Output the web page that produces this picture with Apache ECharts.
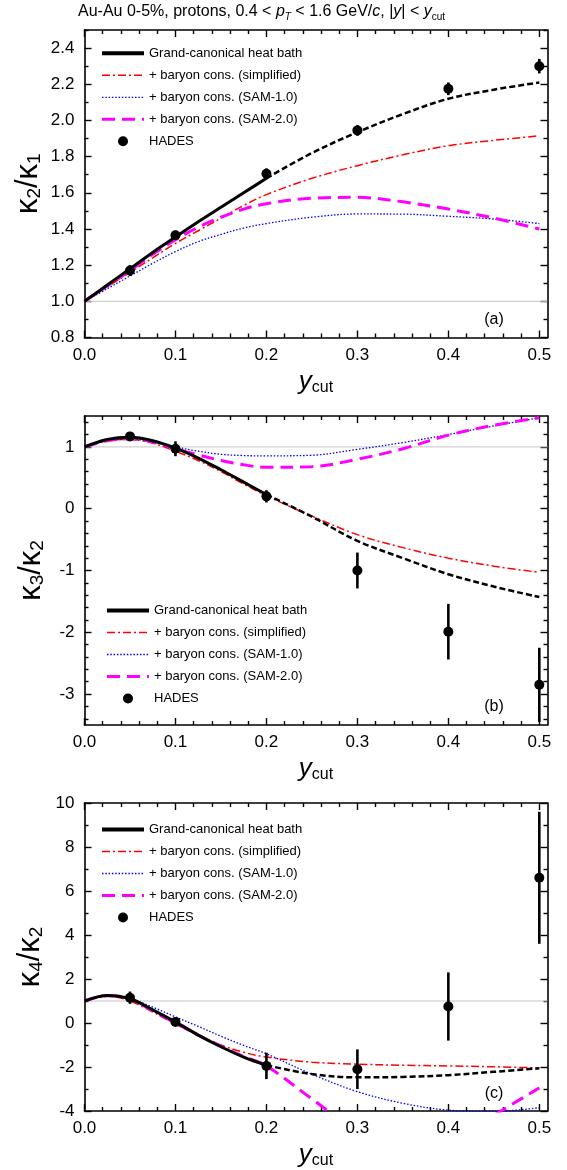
<!DOCTYPE html>
<html><head><meta charset="utf-8">
<script src="https://cdn.jsdelivr.net/npm/echarts@6/dist/echarts.min.js"></script>
<style>html,body{margin:0;padding:0;background:#fff}#c{width:567px;height:1170px}</style>
</head><body><div id="c"></div><script>
// ---------- data ----------
const yCut = [0, 0.025, 0.05, 0.075, 0.1, 0.125, 0.15, 0.175, 0.2, 0.25, 0.3, 0.35, 0.4, 0.45, 0.5];

// panel (a) kappa2/kappa1
const k21_gce  = [1.0, 1.09, 1.18, 1.27, 1.355, 1.44, 1.52, 1.60, 1.68, 1.82, 1.935, 2.035, 2.12, 2.17, 2.21];
const k21_simp = [1.0, 1.08, 1.16, 1.24, 1.32, 1.39, 1.46, 1.53, 1.59, 1.68, 1.75, 1.81, 1.86, 1.89, 1.915];
const k21_sam1 = [1.0, 1.07, 1.14, 1.21, 1.275, 1.33, 1.37, 1.405, 1.43, 1.465, 1.483, 1.482, 1.47, 1.455, 1.43];
const k21_sam2 = [1.0, 1.085, 1.17, 1.26, 1.34, 1.41, 1.465, 1.51, 1.54, 1.57, 1.575, 1.55, 1.51, 1.46, 1.40];
const k21_hades = [1.17, 1.365, 1.705, 1.945, 2.175, 2.30];
const k21_err   = [0.03, 0.025, 0.03, 0.03, 0.035, 0.04];

// panel (b) kappa3/kappa2
const k32_gce  = [1.0, 1.12, 1.155, 1.10, 0.98, 0.82, 0.63, 0.43, 0.23, -0.13, -0.52, -0.80, -1.06, -1.26, -1.43];
const k32_simp = [1.0, 1.10, 1.12, 1.06, 0.93, 0.78, 0.60, 0.40, 0.21, -0.12, -0.42, -0.63, -0.80, -0.93, -1.03];
const k32_sam1 = [1.0, 1.10, 1.13, 1.08, 1.0, 0.93, 0.88, 0.86, 0.855, 0.865, 0.96, 1.07, 1.20, 1.34, 1.47];
const k32_sam2 = [1.0, 1.10, 1.13, 1.08, 0.97, 0.87, 0.78, 0.71, 0.67, 0.68, 0.80, 0.97, 1.19, 1.35, 1.47];
const k32_hades = [1.17, 0.97, 0.20, -1.00, -1.99, -2.85];
const k32_err   = [0.04, 0.12, 0.10, 0.29, 0.45, 0.60];

// panel (c) kappa4/kappa2
const k42_gce  = [1.0, 1.25, 1.10, 0.60, 0.05, -0.55, -1.08, -1.55, -1.92, -2.32, -2.47, -2.45, -2.37, -2.22, -2.06];
const k42_simp = [1.0, 1.22, 1.00, 0.50, -0.05, -0.55, -1.00, -1.33, -1.55, -1.78, -1.87, -1.92, -1.95, -1.99, -2.04];
const k42_sam1 = [1.0, 1.23, 1.10, 0.72, 0.28, -0.15, -0.60, -1.02, -1.40, -2.33, -3.12, -3.65, -3.96, -4.02, -3.85];
const k42_sam2 = [1.0, 1.24, 1.10, 0.55, 0.0, -0.55, -1.05, -1.52, -1.95, -3.45, -4.9, -5.6, -5.5, -4.2, -2.95];
const k42_hades = [1.15, 0.05, -1.95, -2.10, 0.75, 6.60];
const k42_err   = [0.28, 0.15, 0.60, 0.90, 1.55, 3.00];

const hadesX = [0.05, 0.1, 0.2, 0.3, 0.4, 0.5];

// axis ticks
const xTicks = [0, 0.1, 0.2, 0.3, 0.4, 0.5];
const k21_ticks = [0.8, 1.0, 1.2, 1.4, 1.6, 1.8, 2.0, 2.2, 2.4];
const k32_ticks = [-3, -2, -1, 0, 1];
const k42_ticks = [-4, -2, 0, 2, 4, 6, 8, 10];

const names = ['Grand-canonical heat bath', '+ baryon cons. (simplified)', '+ baryon cons. (SAM-1.0)', '+ baryon cons. (SAM-2.0)', 'HADES'];

// ---------- styles ----------
const FONT = '"Liberation Sans", Arial, Helvetica, sans-serif';
const XMAX = 0.509;
const lineStyles = [
  {color: '#000', width: 3, type: 'solid'},
  {color: '#ff0000', width: 1.5, type: [8, 3, 2, 3]},
  {color: '#0000ff', width: 1.3, type: [1.5, 1.8]},
  {color: '#ff00ff', width: 3, type: [13, 7]}
];
function minorList(lo, hi, step, majors) {
  const out = [];
  for (let v = lo; v <= hi + 1e-9; v += step) {
    const r = Math.round(v * 1000) / 1000;
    if (!majors.some(m => Math.abs(m - r) < 1e-6)) out.push(r);
  }
  return out;
}
const xMinor = minorList(0, 0.5, 0.02, xTicks);

const panels = [
  {top: 30, height: 307.5, ymin: 0.8, ymax: 2.5, ticks: k21_ticks, minor: minorList(0.8, 2.5, 0.1, k21_ticks), dec: 1, gap: 40,
   d: [k21_gce, k21_simp, k21_sam1, k21_sam2], h: k21_hades, e: k21_err, sub: ['2', '1'], legTop: 42.3, legLeft: 100, lab: '(a)', labPos: [494, 320]},
  {top: 416, height: 309, ymin: -3.5, ymax: 1.5, ticks: k32_ticks, minor: minorList(-3.4, 1.4, 0.2, k32_ticks), dec: 0, gap: 37,
   d: [k32_gce, k32_simp, k32_sam1, k32_sam2], h: k32_hades, e: k32_err, sub: ['3', '2'], legTop: 599.5, legLeft: 105, lab: '(b)', labPos: [494, 707]},
  {top: 803, height: 308, ymin: -4, ymax: 10, ticks: k42_ticks, minor: minorList(-3, 9, 1, k42_ticks), dec: 0, gap: 38,
   d: [k42_gce, k42_simp, k42_sam1, k42_sam2], h: k42_hades, e: k42_err, sub: ['4', '2'], legTop: 818.5, legLeft: 100, lab: '(c)', labPos: [494, 1094]}
];

const grid = [], xAxis = [], yAxis = [], series = [], legend = [], graphic = [];

panels.forEach((p, g) => {
  grid.push({left: 84.5, right: 19.5, top: p.top, height: p.height, show: false});
  [['bottom', true], ['bottom', false], ['top', true], ['top', false]].forEach(([pos, major], k) => {
    const main = (k === 0);
    xAxis.push({
      type: 'value', gridIndex: g, min: 0, max: XMAX, position: pos, offset: 0,
      axisLine: {show: major, onZero: false, lineStyle: {color: '#000', width: 1.6}},
      axisTick: {show: true, inside: true, length: major ? 7 : 4, customValues: major ? xTicks : xMinor, lineStyle: {color: '#000', width: 1.4}},
      axisLabel: {show: main, customValues: xTicks, formatter: v => v.toFixed(1), fontSize: 17, color: '#000', fontFamily: FONT, margin: 9},
      splitLine: {show: false}, minorTick: {show: false},
      name: main ? '{y|y}{s|cut}' : '', nameLocation: 'middle', nameGap: 30,
      nameTextStyle: {rich: {
        y: {fontSize: 26, fontStyle: 'italic', fontFamily: FONT, color: '#000', lineHeight: 28},
        s: {fontSize: 16, fontFamily: FONT, color: '#000', lineHeight: 16, verticalAlign: 'bottom', padding: [6, 0, 0, 0]}
      }}
    });
  });
  [['left', true], ['left', false], ['right', true], ['right', false]].forEach(([pos, major], k) => {
    const main = (k === 0);
    yAxis.push({
      type: 'value', gridIndex: g, min: p.ymin, max: p.ymax, position: pos, offset: 0,
      axisLine: {show: major, onZero: false, lineStyle: {color: '#000', width: 1.6}},
      axisTick: {show: true, inside: true, length: major ? 7 : 4, customValues: major ? p.ticks : p.minor, lineStyle: {color: '#000', width: 1.4}},
      axisLabel: {show: main, customValues: p.ticks, formatter: v => v.toFixed(p.dec), fontSize: 17, color: '#000', fontFamily: FONT, margin: 10},
      splitLine: {show: false}, minorTick: {show: false},
      name: main ? '{k|κ}{s|' + p.sub[0] + '}{k|/κ}{s|' + p.sub[1] + '}' : '',
      nameLocation: 'middle', nameRotate: 90, nameGap: p.gap, nameMoveOverlap: false,
      nameTextStyle: {rich: {
        k: {fontSize: 31, fontFamily: FONT, color: '#000', lineHeight: 32},
        s: {fontSize: 19, fontFamily: FONT, color: '#000', lineHeight: 19, verticalAlign: 'bottom', padding: [7, 0, 0, 0]}
      }}
    });
  });
  const xi = 4 * g, yi = 4 * g;
  const pairs = arr => yCut.map((x, i) => [x, arr[i]]);
  series.push({type: 'line', name: '_ref' + g, xAxisIndex: xi, yAxisIndex: yi, data: [[0, 1], [XMAX, 1]], silent: true, z: 1,
    symbol: 'none', lineStyle: {color: '#c4c4c4', width: 1}});
  const gce = pairs(p.d[0]);
  series.push({type: 'line', name: names[0], xAxisIndex: xi, yAxisIndex: yi, data: gce.filter(q => q[0] <= 0.2 + 1e-9),
    smooth: 0.35, symbol: 'none', z: 5, lineStyle: lineStyles[0], itemStyle: {color: '#000'}});
  series.push({type: 'line', name: '_gce_ext', xAxisIndex: xi, yAxisIndex: yi, data: gce.filter(q => q[0] >= 0.2 - 1e-9),
    smooth: 0.35, symbol: 'none', z: 5, lineStyle: {color: '#000', width: 2.5, type: [6, 3]}, itemStyle: {color: '#000'}});
  [1, 2, 3].forEach(j => {
    series.push({type: 'line', name: names[j], xAxisIndex: xi, yAxisIndex: yi, data: pairs(p.d[j]),
      smooth: 0.35, symbol: 'none', z: 4, lineStyle: lineStyles[j], itemStyle: {color: lineStyles[j].color}});
  });
  series.push({type: 'custom', name: '_err' + g, xAxisIndex: xi, yAxisIndex: yi, z: 6,
    data: hadesX.map((x, i) => [x, p.h[i] - p.e[i], p.h[i] + p.e[i]]),
    encode: {x: 0, y: [1, 2]},
    renderItem: (params, api) => {
      const a = api.coord([api.value(0), api.value(1)]);
      const b = api.coord([api.value(0), api.value(2)]);
      return {type: 'line', shape: {x1: a[0], y1: a[1], x2: b[0], y2: b[1]}, style: {stroke: '#000', lineWidth: 2.6}};
    }});
  series.push({type: 'scatter', name: names[4], xAxisIndex: xi, yAxisIndex: yi, z: 7,
    data: hadesX.map((x, i) => [x, p.h[i]]), symbol: 'circle', symbolSize: 10, itemStyle: {color: '#000', opacity: 1}});

  legend.push({show: true, orient: 'vertical', left: p.legLeft, top: p.legTop, padding: 0, itemWidth: 42, itemHeight: 10, itemGap: 0,
    selectedMode: false,
    data: names.map((n, i) => i < 4
      ? {name: n, itemStyle: {opacity: 0}, lineStyle: Object.assign({}, lineStyles[i], {width: i === 0 ? 4 : lineStyles[i].width})}
      : {name: n, itemStyle: {color: '#000', opacity: 1}}),
    textStyle: {fontSize: 13, color: '#000', fontFamily: FONT, lineHeight: 22}});
  graphic.push({type: 'text', x: p.labPos[0], y: p.labPos[1],
    style: {text: p.lab, font: '16px ' + FONT, fill: '#000', align: 'center', verticalAlign: 'middle'}});
});

const option = {
  animation: false,
  backgroundColor: '#fff',
  title: {
    text: '{n|Au-Au 0-5%, protons, 0.4 < }{i|p}{is|T}{n| < 1.6 GeV/}{i|c}{n|, |}{i|y}{n|| < }{i|y}{s|cut}',
    left: 78, top: 2, padding: 0,
    textStyle: {fontWeight: 'normal', rich: {
      n: {fontSize: 16, fontFamily: FONT, fontWeight: 'normal', color: '#000', lineHeight: 20},
      i: {fontSize: 16, fontFamily: FONT, fontStyle: 'italic', fontWeight: 'normal', color: '#000', lineHeight: 20},
      is: {fontSize: 10, fontFamily: FONT, fontStyle: 'italic', fontWeight: 'normal', color: '#000', lineHeight: 10, verticalAlign: 'bottom', padding: [4, 0, 0, 0]},
      s: {fontSize: 10, fontFamily: FONT, fontWeight: 'normal', color: '#000', lineHeight: 10, verticalAlign: 'bottom', padding: [4, 0, 0, 0]}
    }}
  },
  grid, xAxis, yAxis, series, legend, graphic
};
const chart = echarts.init(document.getElementById('c'), null, {renderer: 'canvas'});
chart.setOption(option);
</script></body></html>
